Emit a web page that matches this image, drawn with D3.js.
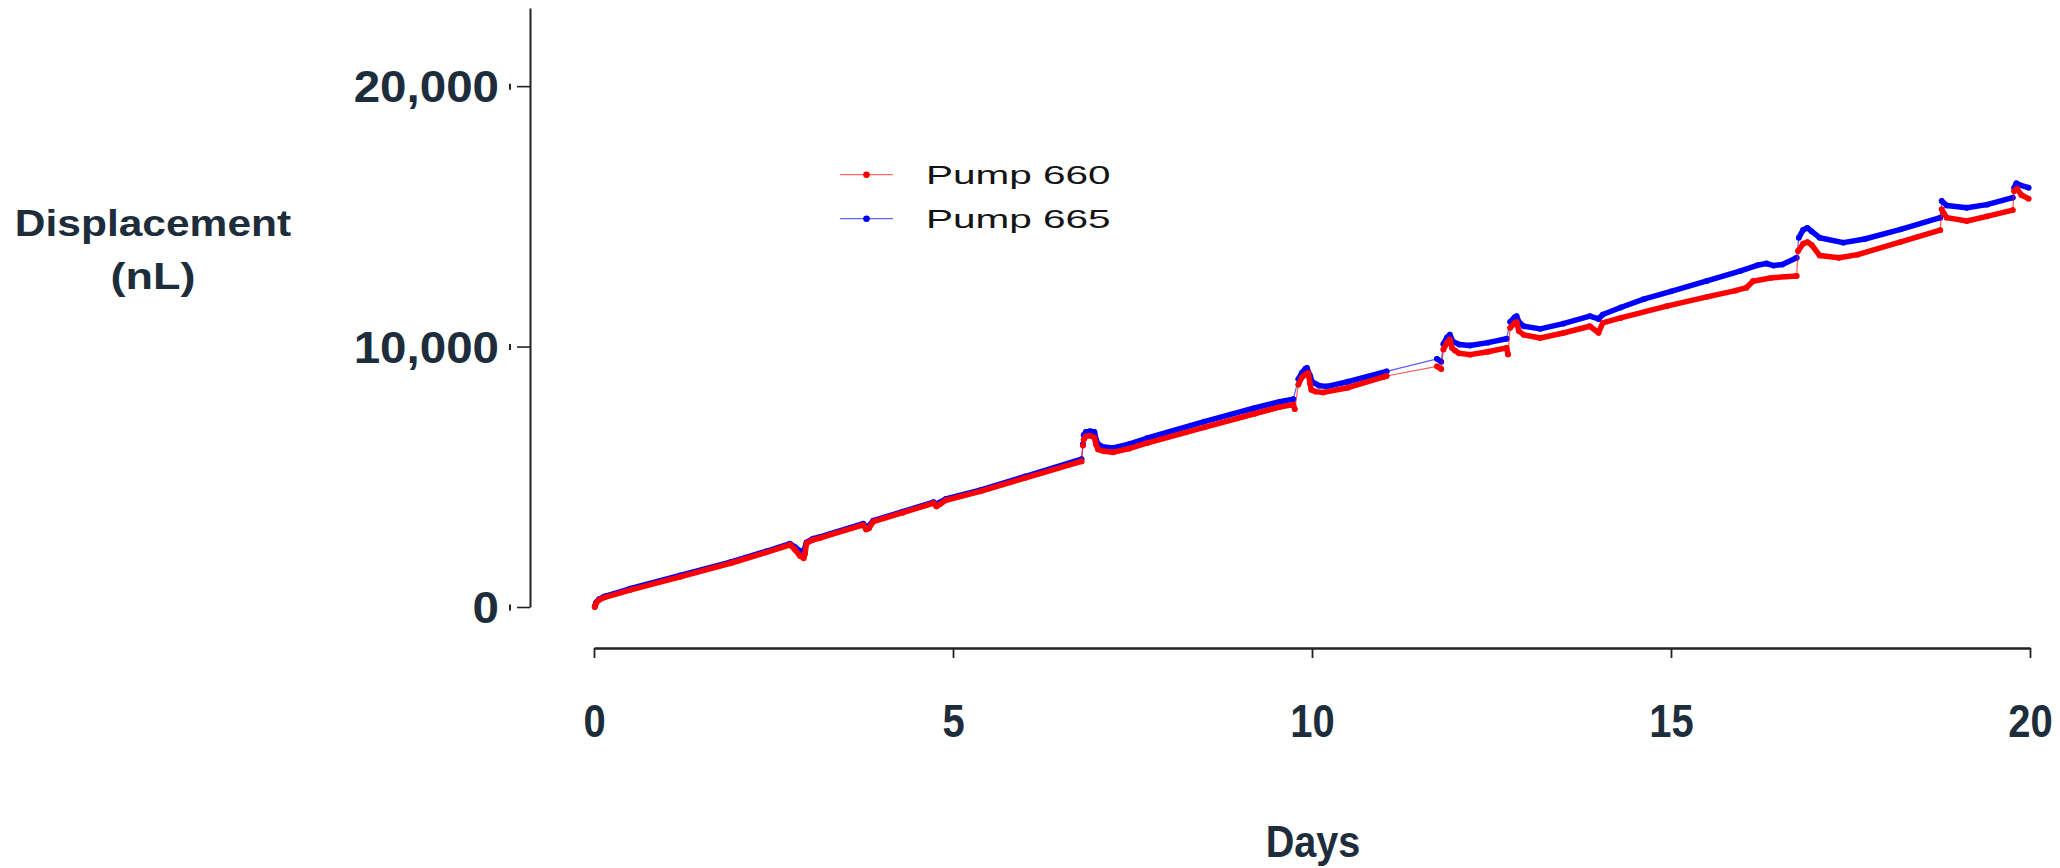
<!DOCTYPE html>
<html>
<head>
<meta charset="utf-8">
<script src="https://cdn.jsdelivr.net/npm/d3@7"></script>
<style>
  html, body { margin: 0; padding: 0; background: #ffffff; }
  svg { display: block; }
</style>
</head>
<body>
<svg id="chart" width="2060" height="868"></svg>
<script>
// Axis ticks
const dayTicks = [0, 5, 10, 15, 20];
const displacementTicks = [0, 10000, 20000];

// Series names and colours
const seriesNames = ["Pump 660", "Pump 665"];
const seriesColors = ["#ff0000", "#0000ff"];

// [day, displacement nL]; null separates recording runs
const pump660 = [
  [0.01, 0], [0.03, 150], [0.07, 270], [0.15, 370], [0.5, 650], [1.2, 1160], [1.9, 1680],
  [2.4, 2100], [2.73, 2390], [2.8, 2200], [2.87, 1960], [2.92, 1870], [2.94, 2050],
  [2.96, 2450], [3.05, 2580], [3.15, 2650], [3.75, 3150], [3.79, 2980], [3.83, 3020],
  [3.89, 3280], [4.3, 3620], [4.73, 3990], [4.77, 3860], [4.82, 3950], [4.9, 4100],
  [5.38, 4440], [6.0, 4950], [6.79, 5590],
  null, [6.81, 6200], null,
  [6.82, 6420], [6.85, 6550], [6.91, 6580], [6.97, 6500], [6.99, 6250], [7.02, 6050],
  [7.1, 5980], [7.23, 5940], [7.45, 6080], [7.7, 6290], [8.5, 6900], [9.2, 7420],
  [9.55, 7680], [9.74, 7770], [9.76, 7600],
  null,
  [9.81, 8540], [9.86, 8820], [9.92, 8950], [9.95, 8990], [9.97, 8600], [9.99, 8340],
  [10.05, 8270], [10.16, 8240], [10.5, 8420], [10.99, 8830], [11.04, 8870],
  null,
  [11.74, 9240], [11.8, 9140],
  null,
  [11.83, 9890], [11.88, 10150], [11.92, 10270], [11.95, 9950], [11.99, 9850],
  [12.05, 9740], [12.2, 9690], [12.45, 9800], [12.71, 9950], [12.73, 9700],
  null,
  [12.76, 10720], [12.82, 10900], [12.85, 10940], [12.88, 10600], [12.95, 10450],
  [13.18, 10330], [13.5, 10520], [13.87, 10780], [13.99, 10530], [14.05, 10910],
  [14.3, 11100], [14.94, 11550], [15.5, 11910], [15.9, 12150], [16.05, 12260],
  [16.14, 12510], [16.4, 12640], [16.75, 12710],
  null,
  [16.77, 13670], [16.84, 13950], [16.9, 14010], [16.96, 13900], [17.07, 13500],
  [17.34, 13410], [17.6, 13530], [18.2, 14020], [18.75, 14470],
  null,
  [18.77, 15270], [18.8, 15120], [18.84, 14950], [19.12, 14820], [19.4, 15000], [19.76, 15240],
  null,
  [19.78, 15970], [19.82, 16060], [19.88, 15820], [19.98, 15680]
];

const pump665 = [
  [0.01, 20], [0.03, 180], [0.07, 300], [0.15, 410], [0.5, 700], [1.2, 1210], [1.9, 1720],
  [2.4, 2140], [2.73, 2430], [2.8, 2300], [2.87, 2150], [2.92, 2120], [2.96, 2480],
  [3.05, 2620], [3.15, 2690], [3.75, 3200], [3.79, 3080], [3.83, 3110], [3.89, 3320],
  [4.3, 3660], [4.73, 4030], [4.77, 3950], [4.82, 4020], [4.9, 4150], [5.38, 4490],
  [6.0, 5010], [6.79, 5680],
  null, [6.81, 6250], null,
  [6.82, 6600], [6.85, 6720], [6.91, 6750], [6.97, 6720], [6.99, 6450], [7.02, 6250],
  [7.1, 6140], [7.23, 6110], [7.45, 6250], [7.7, 6480], [8.5, 7120], [9.2, 7640],
  [9.55, 7880], [9.74, 7980],
  null,
  [9.81, 8750], [9.86, 9000], [9.91, 9150], [9.93, 9180], [9.97, 8900], [10.0, 8650],
  [10.1, 8500], [10.21, 8470], [10.5, 8650], [11.04, 9050],
  null,
  [11.74, 9530], [11.8, 9420],
  null,
  [11.83, 10100], [11.88, 10350], [11.92, 10460], [11.96, 10200], [12.05, 10080],
  [12.2, 10040], [12.45, 10150], [12.71, 10300],
  null,
  [12.76, 10950], [12.82, 11120], [12.85, 11170], [12.88, 10950], [12.95, 10780],
  [13.18, 10680], [13.5, 10880], [13.87, 11170], [13.99, 11060], [14.05, 11230],
  [14.3, 11500], [14.62, 11820], [15.0, 12120], [15.5, 12520], [15.96, 12900],
  [16.2, 13120], [16.33, 13190], [16.43, 13110], [16.55, 13150], [16.75, 13410],
  null,
  [16.78, 14180], [16.84, 14480], [16.9, 14560], [16.96, 14420], [17.07, 14180],
  [17.4, 13990], [17.7, 14130], [18.2, 14500], [18.75, 14950],
  null,
  [18.77, 15590], [18.84, 15420], [19.12, 15330], [19.4, 15450], [19.76, 15720],
  null,
  [19.78, 16100], [19.81, 16270], [19.86, 16200], [19.98, 16100]
];

const seriesData = [pump660, pump665];

const svg = d3.select("#chart");
const labelColor = "#1e2d3b";
const boldFont = "'Liberation Sans', Arial, Helvetica, sans-serif";

const x = d3.scaleLinear().domain([0, 20]).range([594, 2030]);
const y = d3.scaleLinear().domain([0, 23000]).range([607, 8]);

// Stretch or squeeze a text element horizontally by a factor
function widen(sel, factor) {
  sel.each(function () {
    const w = this.getComputedTextLength();
    d3.select(this)
      .attr("textLength", w * factor)
      .attr("lengthAdjust", "spacingAndGlyphs");
  });
}

// ---- Y axis ----
const yAxisG = svg.append("g")
  .attr("transform", "translate(530,0)")
  .call(d3.axisLeft(y)
    .tickValues(displacementTicks)
    .tickFormat(d3.format(","))
    .tickSizeInner(13)
    .tickSizeOuter(0));
yAxisG.select(".domain").attr("stroke", "#222").attr("stroke-width", 2);
yAxisG.selectAll(".tick line").attr("stroke", "#222").attr("stroke-width", 1.6);
yAxisG.selectAll(".tick")
  .append("line")
  .attr("x1", -20).attr("x2", -20)
  .attr("y1", -3).attr("y2", 3)
  .attr("stroke", "#222").attr("stroke-width", 2);
yAxisG.selectAll(".tick text")
  .attr("x", -31)
  .attr("dy", "0.36em")
  .attr("fill", labelColor)
  .style("font-family", boldFont)
  .style("font-weight", "bold")
  .style("font-size", "44px")
  .call(widen, 1.08);

// ---- X axis ----
const xAxisG = svg.append("g")
  .attr("transform", "translate(0,648)")
  .call(d3.axisBottom(x)
    .tickValues(dayTicks)
    .tickFormat(d3.format("d"))
    .tickSizeInner(10)
    .tickSizeOuter(0));
xAxisG.select(".domain").attr("stroke", "#222").attr("stroke-width", 2.6);
xAxisG.selectAll(".tick line").attr("stroke", "#222").attr("stroke-width", 1.8);
xAxisG.selectAll(".tick text")
  .attr("y", 89)
  .attr("dy", null)
  .attr("fill", labelColor)
  .style("font-family", boldFont)
  .style("font-weight", "bold")
  .style("font-size", "47px")
  .call(widen, 0.85);

// ---- Axis titles ----
svg.append("text")
  .attr("x", 1313).attr("y", 857)
  .attr("text-anchor", "middle")
  .attr("fill", labelColor)
  .style("font-family", boldFont)
  .style("font-weight", "bold")
  .style("font-size", "45px")
  .text("Days")
  .call(widen, 0.88);

svg.append("text")
  .attr("x", 153).attr("y", 236)
  .attr("text-anchor", "middle")
  .attr("fill", labelColor)
  .style("font-family", boldFont)
  .style("font-weight", "bold")
  .style("font-size", "36px")
  .text("Displacement")
  .call(widen, 1.18);

svg.append("text")
  .attr("x", 153).attr("y", 289)
  .attr("text-anchor", "middle")
  .attr("fill", labelColor)
  .style("font-family", boldFont)
  .style("font-weight", "bold")
  .style("font-size", "36px")
  .text("(nL)")
  .call(widen, 1.25);

// ---- Series ----
const thickLine = d3.line()
  .defined(d => d !== null)
  .x(d => x(d[0]))
  .y(d => y(d[1]));
const thinLine = d3.line()
  .x(d => x(d[0]))
  .y(d => y(d[1]));

// blue underneath, red on top
[1, 0].forEach(i => {
  const data = seriesData[i];
  const pts = data.filter(d => d !== null);
  const g = svg.append("g").attr("class", "series");
  g.append("path")
    .attr("d", thinLine(pts))
    .attr("fill", "none")
    .attr("stroke", seriesColors[i])
    .attr("stroke-opacity", 0.65)
    .attr("stroke-width", 1.2);
  g.append("path")
    .attr("d", thickLine(data))
    .attr("fill", "none")
    .attr("stroke", seriesColors[i])
    .attr("stroke-width", 5.5)
    .attr("stroke-linejoin", "round")
    .attr("stroke-linecap", "round");
  g.selectAll("circle")
    .data(pts)
    .join("circle")
    .attr("cx", d => x(d[0]))
    .attr("cy", d => y(d[1]))
    .attr("r", 2.9)
    .attr("fill", seriesColors[i]);
});

// ---- Legend ----
const legendRows = [174.7, 218.7];
const legend = svg.append("g");
seriesNames.forEach((name, i) => {
  const yy = legendRows[i];
  legend.append("line")
    .attr("x1", 840).attr("x2", 893)
    .attr("y1", yy).attr("y2", yy)
    .attr("stroke", seriesColors[i])
    .attr("stroke-opacity", 0.6)
    .attr("stroke-width", 1.3);
  legend.append("circle")
    .attr("cx", 866.5).attr("cy", yy)
    .attr("r", 3.3)
    .attr("fill", seriesColors[i]);
  legend.append("text")
    .attr("x", 926).attr("y", yy + 9)
    .attr("fill", "#141414")
    .style("font-family", "'Liberation Sans', Arial, Helvetica, sans-serif")
    .style("font-size", "25px")
    .text(name)
    .call(widen, 1.62);
});
</script>
</body>
</html>
